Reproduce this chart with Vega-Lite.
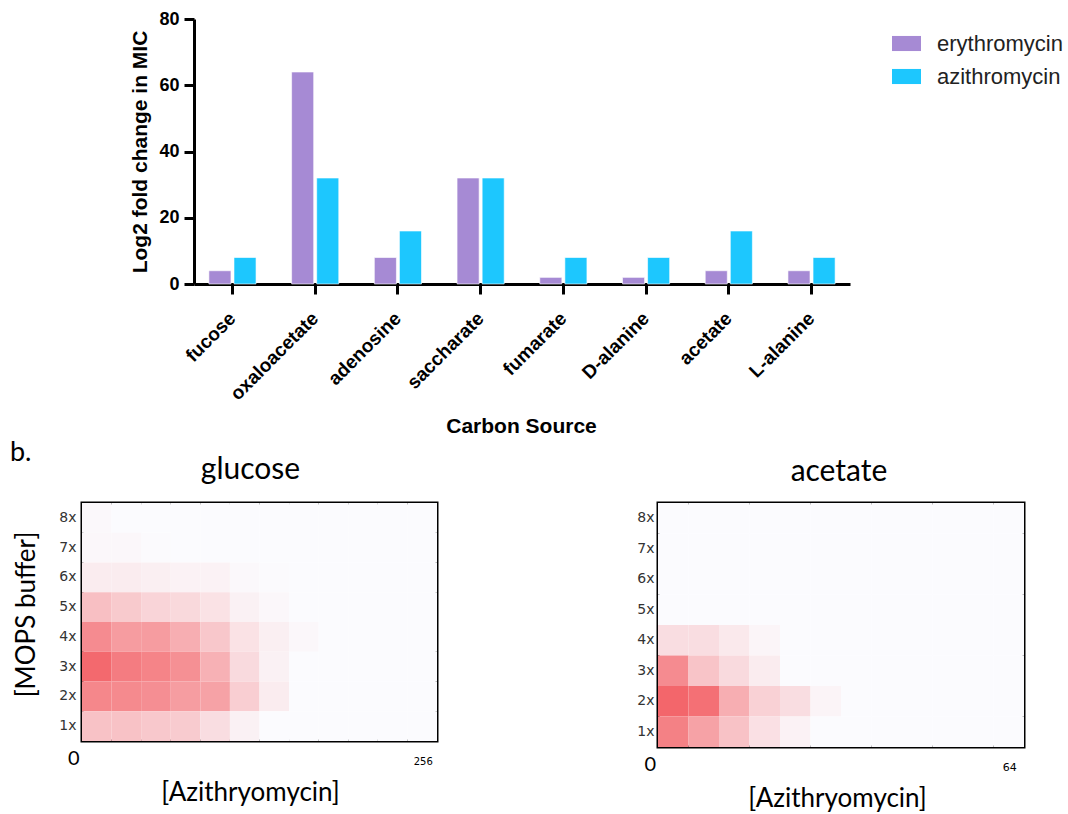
{
"$schema": "https://vega.github.io/schema/vega-lite/v6.json",
"padding": {"left": 10, "top": 10, "right": 0, "bottom": 0},
"background": "#ffffff",
"config": {"view": {"stroke": null}},
"datasets": {
"bars": [
{"source":"fucose","drug":"erythromycin","value":4},{"source":"fucose","drug":"azithromycin","value":8},
{"source":"oxaloacetate","drug":"erythromycin","value":64},{"source":"oxaloacetate","drug":"azithromycin","value":32},
{"source":"adenosine","drug":"erythromycin","value":8},{"source":"adenosine","drug":"azithromycin","value":16},
{"source":"saccharate","drug":"erythromycin","value":32},{"source":"saccharate","drug":"azithromycin","value":32},
{"source":"fumarate","drug":"erythromycin","value":2},{"source":"fumarate","drug":"azithromycin","value":8},
{"source":"D-alanine","drug":"erythromycin","value":2},{"source":"D-alanine","drug":"azithromycin","value":8},
{"source":"acetate","drug":"erythromycin","value":4},{"source":"acetate","drug":"azithromycin","value":16},
{"source":"L-alanine","drug":"erythromycin","value":4},{"source":"L-alanine","drug":"azithromycin","value":8}
],
"glucose": [
{"r":"8x","c":1,"v":0.02},{"r":"8x","c":2,"v":0},{"r":"8x","c":3,"v":0},{"r":"8x","c":4,"v":0},{"r":"8x","c":5,"v":0},{"r":"8x","c":6,"v":0},{"r":"8x","c":7,"v":0},{"r":"8x","c":8,"v":0},{"r":"8x","c":9,"v":0},{"r":"8x","c":10,"v":0},{"r":"8x","c":11,"v":0},{"r":"8x","c":12,"v":0},
{"r":"7x","c":1,"v":0.03},{"r":"7x","c":2,"v":0.03},{"r":"7x","c":3,"v":0.01},{"r":"7x","c":4,"v":0},{"r":"7x","c":5,"v":0},{"r":"7x","c":6,"v":0},{"r":"7x","c":7,"v":0},{"r":"7x","c":8,"v":0},{"r":"7x","c":9,"v":0},{"r":"7x","c":10,"v":0},{"r":"7x","c":11,"v":0},{"r":"7x","c":12,"v":0},
{"r":"6x","c":1,"v":0.1},{"r":"6x","c":2,"v":0.1},{"r":"6x","c":3,"v":0.08},{"r":"6x","c":4,"v":0.06},{"r":"6x","c":5,"v":0.06},{"r":"6x","c":6,"v":0.02},{"r":"6x","c":7,"v":0.01},{"r":"6x","c":8,"v":0},{"r":"6x","c":9,"v":0},{"r":"6x","c":10,"v":0},{"r":"6x","c":11,"v":0},{"r":"6x","c":12,"v":0},
{"r":"5x","c":1,"v":0.4},{"r":"5x","c":2,"v":0.33},{"r":"5x","c":3,"v":0.26},{"r":"5x","c":4,"v":0.23},{"r":"5x","c":5,"v":0.17},{"r":"5x","c":6,"v":0.07},{"r":"5x","c":7,"v":0.03},{"r":"5x","c":8,"v":0},{"r":"5x","c":9,"v":0},{"r":"5x","c":10,"v":0},{"r":"5x","c":11,"v":0},{"r":"5x","c":12,"v":0},
{"r":"4x","c":1,"v":0.75},{"r":"4x","c":2,"v":0.64},{"r":"4x","c":3,"v":0.64},{"r":"4x","c":4,"v":0.52},{"r":"4x","c":5,"v":0.35},{"r":"4x","c":6,"v":0.17},{"r":"4x","c":7,"v":0.08},{"r":"4x","c":8,"v":0.03},{"r":"4x","c":9,"v":0},{"r":"4x","c":10,"v":0},{"r":"4x","c":11,"v":0},{"r":"4x","c":12,"v":0},
{"r":"3x","c":1,"v":0.98},{"r":"3x","c":2,"v":0.85},{"r":"3x","c":3,"v":0.8},{"r":"3x","c":4,"v":0.72},{"r":"3x","c":5,"v":0.5},{"r":"3x","c":6,"v":0.22},{"r":"3x","c":7,"v":0.07},{"r":"3x","c":8,"v":0},{"r":"3x","c":9,"v":0},{"r":"3x","c":10,"v":0},{"r":"3x","c":11,"v":0},{"r":"3x","c":12,"v":0},
{"r":"2x","c":1,"v":0.78},{"r":"2x","c":2,"v":0.76},{"r":"2x","c":3,"v":0.73},{"r":"2x","c":4,"v":0.63},{"r":"2x","c":5,"v":0.6},{"r":"2x","c":6,"v":0.3},{"r":"2x","c":7,"v":0.1},{"r":"2x","c":8,"v":0},{"r":"2x","c":9,"v":0},{"r":"2x","c":10,"v":0},{"r":"2x","c":11,"v":0},{"r":"2x","c":12,"v":0},
{"r":"1x","c":1,"v":0.38},{"r":"1x","c":2,"v":0.38},{"r":"1x","c":3,"v":0.34},{"r":"1x","c":4,"v":0.32},{"r":"1x","c":5,"v":0.2},{"r":"1x","c":6,"v":0.07},{"r":"1x","c":7,"v":0},{"r":"1x","c":8,"v":0},{"r":"1x","c":9,"v":0},{"r":"1x","c":10,"v":0},{"r":"1x","c":11,"v":0},{"r":"1x","c":12,"v":0}
],
"acetate": [
{"r":"8x","c":1,"v":0},{"r":"8x","c":2,"v":0},{"r":"8x","c":3,"v":0},{"r":"8x","c":4,"v":0},{"r":"8x","c":5,"v":0},{"r":"8x","c":6,"v":0},{"r":"8x","c":7,"v":0},{"r":"8x","c":8,"v":0},{"r":"8x","c":9,"v":0},{"r":"8x","c":10,"v":0},{"r":"8x","c":11,"v":0},{"r":"8x","c":12,"v":0},
{"r":"7x","c":1,"v":0},{"r":"7x","c":2,"v":0},{"r":"7x","c":3,"v":0},{"r":"7x","c":4,"v":0},{"r":"7x","c":5,"v":0},{"r":"7x","c":6,"v":0},{"r":"7x","c":7,"v":0},{"r":"7x","c":8,"v":0},{"r":"7x","c":9,"v":0},{"r":"7x","c":10,"v":0},{"r":"7x","c":11,"v":0},{"r":"7x","c":12,"v":0},
{"r":"6x","c":1,"v":0},{"r":"6x","c":2,"v":0},{"r":"6x","c":3,"v":0},{"r":"6x","c":4,"v":0},{"r":"6x","c":5,"v":0},{"r":"6x","c":6,"v":0},{"r":"6x","c":7,"v":0},{"r":"6x","c":8,"v":0},{"r":"6x","c":9,"v":0},{"r":"6x","c":10,"v":0},{"r":"6x","c":11,"v":0},{"r":"6x","c":12,"v":0},
{"r":"5x","c":1,"v":0},{"r":"5x","c":2,"v":0},{"r":"5x","c":3,"v":0},{"r":"5x","c":4,"v":0},{"r":"5x","c":5,"v":0},{"r":"5x","c":6,"v":0},{"r":"5x","c":7,"v":0},{"r":"5x","c":8,"v":0},{"r":"5x","c":9,"v":0},{"r":"5x","c":10,"v":0},{"r":"5x","c":11,"v":0},{"r":"5x","c":12,"v":0},
{"r":"4x","c":1,"v":0.2},{"r":"4x","c":2,"v":0.2},{"r":"4x","c":3,"v":0.12},{"r":"4x","c":4,"v":0.04},{"r":"4x","c":5,"v":0},{"r":"4x","c":6,"v":0},{"r":"4x","c":7,"v":0},{"r":"4x","c":8,"v":0},{"r":"4x","c":9,"v":0},{"r":"4x","c":10,"v":0},{"r":"4x","c":11,"v":0},{"r":"4x","c":12,"v":0},
{"r":"3x","c":1,"v":0.75},{"r":"3x","c":2,"v":0.37},{"r":"3x","c":3,"v":0.22},{"r":"3x","c":4,"v":0.1},{"r":"3x","c":5,"v":0},{"r":"3x","c":6,"v":0},{"r":"3x","c":7,"v":0},{"r":"3x","c":8,"v":0},{"r":"3x","c":9,"v":0},{"r":"3x","c":10,"v":0},{"r":"3x","c":11,"v":0},{"r":"3x","c":12,"v":0},
{"r":"2x","c":1,"v":1},{"r":"2x","c":2,"v":0.93},{"r":"2x","c":3,"v":0.52},{"r":"2x","c":4,"v":0.28},{"r":"2x","c":5,"v":0.2},{"r":"2x","c":6,"v":0.05},{"r":"2x","c":7,"v":0},{"r":"2x","c":8,"v":0},{"r":"2x","c":9,"v":0},{"r":"2x","c":10,"v":0},{"r":"2x","c":11,"v":0},{"r":"2x","c":12,"v":0},
{"r":"1x","c":1,"v":0.82},{"r":"1x","c":2,"v":0.6},{"r":"1x","c":3,"v":0.38},{"r":"1x","c":4,"v":0.18},{"r":"1x","c":5,"v":0.06},{"r":"1x","c":6,"v":0},{"r":"1x","c":7,"v":0},{"r":"1x","c":8,"v":0},{"r":"1x","c":9,"v":0},{"r":"1x","c":10,"v":0},{"r":"1x","c":11,"v":0},{"r":"1x","c":12,"v":0}
]
},
"resolve": {"scale": {"color": "independent"}, "legend": {"color": "independent"}},
"spacing": -13,
"vconcat": [
{
"width": 768, "height": 265,
"data": {"name": "bars"},
"title": {"text": "b.", "orient": "bottom", "anchor": "start", "frame": "group", "dx": -72, "offset": 25, "baseline": "alphabetic", "font": "Lato", "fontSize": 27, "fontWeight": "normal", "color": "#000000"},
"mark": {"type": "bar", "stroke": "#ffffff", "strokeWidth": 1, "strokeOpacity": 0.6},
"encoding": {
"x": {"field": "source", "type": "nominal", "sort": ["fucose","oxaloacetate","adenosine","saccharate","fumarate","D-alanine","acetate","L-alanine"],
"scale": {"range": [112, 768], "paddingInner": 0.43, "paddingOuter": 0.18},
"axis": {"title": "Carbon Source", "titleFont": "Liberation Sans", "titleFontSize": 21, "titleFontWeight": "bold", "titleColor": "#000000", "titleX": 439, "titleY": 148, "titleBaseline": "alphabetic",
"labelAngle": -45, "labelFont": "Liberation Sans", "labelFontSize": 19, "labelFontWeight": "bold", "labelColor": "#000000", "labelAlign": "right", "labelBaseline": "middle", "labelPadding": 21,
"domainColor": "#000000", "domainWidth": 3, "tickColor": "#000000", "tickWidth": 3, "tickSize": 10}},
"xOffset": {"field": "drug", "type": "nominal", "sort": ["erythromycin","azithromycin"], "scale": {"paddingInner": 0.12, "paddingOuter": 0}},
"y": {"field": "value", "type": "quantitative", "scale": {"domain": [0, 80]},
"axis": {"offset": -112, "title": "Log2 fold change in MIC", "titleFont": "Liberation Sans", "titleFontSize": 21, "titleFontWeight": "bold", "titleColor": "#000000", "titlePadding": 8,
"values": [0, 20, 40, 60, 80], "grid": false, "labelFont": "Liberation Sans", "labelFontSize": 18, "labelFontWeight": "bold", "labelColor": "#000000", "labelPadding": 5,
"domainColor": "#000000", "domainWidth": 3, "tickColor": "#000000", "tickWidth": 3, "tickSize": 10}},
"color": {"field": "drug", "type": "nominal", "sort": ["erythromycin","azithromycin"],
"scale": {"domain": ["erythromycin","azithromycin"], "range": ["#a68ad4","#1dc7fe"]},
"legend": {"title": null, "orient": "none", "legendX": 810, "legendY": 10, "symbolType": "M-1,-0.52H1V0.52H-1Z", "symbolSize": 841, "symbolStrokeWidth": 0, "labelFont": "Liberation Sans", "labelFontSize": 22, "labelColor": "#222222", "labelOffset": 16, "rowPadding": 7, "padding": 0}}
}
},
{
"spacing": 196,
"hconcat": [
{
"width": 355, "height": 238,
"data": {"name": "glucose"},
"view": {"stroke": "#000000", "strokeWidth": 3},
"title": {"text": "glucose", "font": "Lato", "fontSize": 30, "fontWeight": "normal", "color": "#000000", "baseline": "alphabetic", "offset": -6, "dx": -9},
"mark": {"type": "rect"},
"encoding": {
"x": {"field": "c", "type": "ordinal", "scale": {"domain": [1,2,3,4,5,6,7,8,9,10,11,12], "paddingInner": 0, "paddingOuter": 0},
"axis": {"title": "[Azithryomycin]", "titleFont": "Lato", "titleFontSize": 26, "titleFontWeight": "normal", "titleColor": "#000000", "titleX": 168, "titleY": 59, "titleBaseline": "alphabetic",
"values": [1, 12], "labelExpr": "datum.value == 1 ? '0' : '256'", "labelAngle": 0, "ticks": false, "tickSize": 0, "domain": false,
"labelFont": {"condition": {"test": "datum.value == 1", "value": "Lato"}, "value": "DejaVu Sans"},
"labelFontSize": {"condition": {"test": "datum.value == 1", "value": 20}, "value": 10},
"labelOffset": {"condition": {"test": "datum.value == 1", "value": -23}, "value": 1},
"labelBaseline": "alphabetic", "labelPadding": 23, "labelColor": "#000000"}},
"y": {"field": "r", "type": "ordinal", "scale": {"domain": ["8x","7x","6x","5x","4x","3x","2x","1x"], "paddingInner": 0, "paddingOuter": 0},
"axis": {"title": "[MOPS buffer]", "titleFont": "Lato", "titleFontSize": 26, "titleFontWeight": "normal", "titleColor": "#000000", "titleX": -48, "titleY": 111, "titleBaseline": "alphabetic", "titleAngle": 270,
"ticks": false, "tickSize": 0, "domain": false, "labelFont": "DejaVu Sans", "labelFontSize": 14, "labelColor": "#333333", "labelPadding": 6}},
"fill": {"field": "v", "type": "quantitative", "scale": {"domain": [0, 1], "range": ["#fbfbfe", "#f3666b"], "interpolate": "rgb"}, "legend": null}
}
},
{
"width": 366, "height": 244,
"data": {"name": "acetate"},
"view": {"stroke": "#000000", "strokeWidth": 3},
"title": {"text": "acetate", "font": "Lato", "fontSize": 30, "fontWeight": "normal", "color": "#000000", "baseline": "alphabetic", "offset": -8, "dx": -2},
"mark": {"type": "rect"},
"encoding": {
"x": {"field": "c", "type": "ordinal", "scale": {"domain": [1,2,3,4,5,6,7,8,9,10,11,12], "paddingInner": 0, "paddingOuter": 0},
"axis": {"title": "[Azithryomycin]", "titleFont": "Lato", "titleFontSize": 26, "titleFontWeight": "normal", "titleColor": "#000000", "titleX": 179, "titleY": 59, "titleBaseline": "alphabetic",
"values": [1, 12], "labelExpr": "datum.value == 1 ? '0' : '64'", "labelAngle": 0, "ticks": false, "tickSize": 0, "domain": false,
"labelFont": {"condition": {"test": "datum.value == 1", "value": "Lato"}, "value": "DejaVu Sans"},
"labelFontSize": {"condition": {"test": "datum.value == 1", "value": 20}, "value": 11},
"labelOffset": {"condition": {"test": "datum.value == 1", "value": -23}, "value": 1},
"labelBaseline": "alphabetic", "labelPadding": 23, "labelColor": "#000000"}},
"y": {"field": "r", "type": "ordinal", "scale": {"domain": ["8x","7x","6x","5x","4x","3x","2x","1x"], "paddingInner": 0, "paddingOuter": 0},
"axis": {"title": null, "ticks": false, "tickSize": 0, "domain": false, "labelFont": "DejaVu Sans", "labelFontSize": 14, "labelColor": "#333333", "labelPadding": 4}},
"fill": {"field": "v", "type": "quantitative", "scale": {"domain": [0, 1], "range": ["#fbfbfe", "#f3666b"], "interpolate": "rgb"}, "legend": null}
}
}
]
}
]
}
